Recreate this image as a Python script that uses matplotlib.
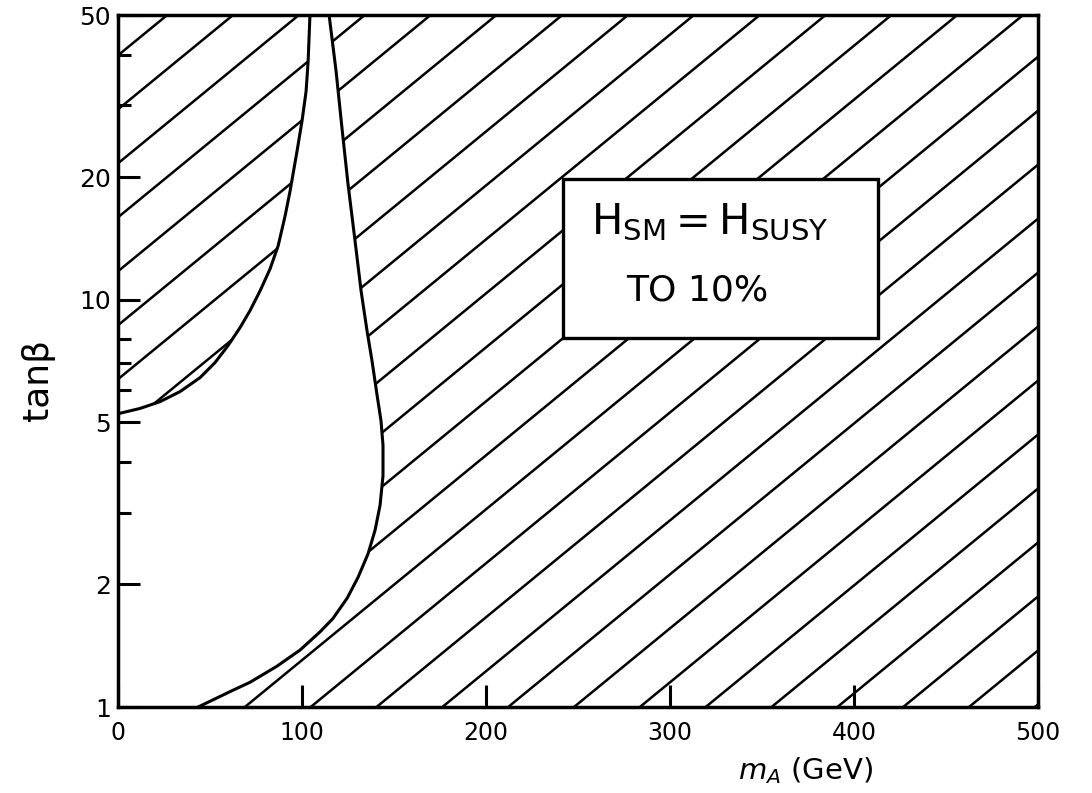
import matplotlib

matplotlib.use("Agg")
import matplotlib.pyplot as plt
import numpy as np
from matplotlib.patches import Rectangle
from matplotlib.ticker import FixedLocator, NullFormatter

# Right-hand edge of the unhatched region, tan(beta) rising from 1 to 50
EDGE_MA = [43.5, 62.5, 71.7, 86.4, 98.9, 109.8, 116.8, 124.5, 130.4, 135.9, 139.7,
           142.4, 144.0, 144.0, 142.9, 140.8, 138.0, 135.3, 132.1, 128.8, 125.0,
           121.7, 118.5, 114.7]
EDGE_TANB = [1.00, 1.10, 1.15, 1.26, 1.38, 1.53, 1.65, 1.85, 2.08, 2.38, 2.72,
             3.13, 3.70, 4.39, 5.05, 5.82, 7.09, 8.40, 10.5, 13.95, 19.2,
             26.4, 36.4, 50]

# Upper-left edge, from the tan(beta) axis up to the top of the spike
UPPER_MA = [0, 12.0, 22.8, 33.7, 44.6, 52.7, 59.8, 66.3, 71.7, 77.2, 82.6, 87.0,
            90.8, 93.5, 97.3, 100.0, 102.2, 103.3, 104.3]
UPPER_TANB = [5.25, 5.41, 5.62, 5.95, 6.44, 7.01, 7.72, 8.54, 9.40, 10.52, 11.9, 13.56,
              16.07, 18.5, 23.2, 27.5, 32.5, 38.5, 50]

X_TICKS = [0, 100, 200, 300, 400, 500]
Y_MAJOR = [1, 2, 5, 10, 20, 50]
Y_MINOR = [3, 4, 6, 7, 8, 30, 40]

# hatching, in axes-fraction units
HATCH_SLOPE = 1.09
HATCH_STEP = 0.078
HATCH_PHASE = 0.3958

fig = plt.figure(figsize=(10.92, 7.93), dpi=100)
ax = fig.add_axes([0.1081, 0.1084, 0.8425, 0.8726])
ax.set_yscale("log")

# diagonal hatching over the whole frame, then blank out the allowed region
for k in range(-25, 25):
    c = HATCH_PHASE + k * HATCH_STEP
    ax.plot([0, 1], [c, c + HATCH_SLOPE], transform=ax.transAxes,
            color="black", lw=1.8, zorder=0.8, solid_capstyle="butt")

region_x = np.r_[0, EDGE_MA, UPPER_MA[::-1]]
region_y = np.r_[1, EDGE_TANB, UPPER_TANB[::-1]]
ax.fill(region_x, region_y, color="white", lw=0, zorder=1)

ax.plot(EDGE_MA, EDGE_TANB, color="black", lw=2.2, zorder=2)
ax.plot(UPPER_MA, UPPER_TANB, color="black", lw=2.2, zorder=2)

# label box
ax.add_patch(Rectangle((242, 8.07), 171, 19.8 - 8.07, facecolor="white",
                       edgecolor="black", lw=2.4, zorder=3))
ax.text(321.7, 14.5, r"$\mathregular{H_{SM} = H_{SUSY}}$", fontsize=30,
        ha="center", va="baseline", zorder=4)
ax.text(314.7, 9.94, "TO 10%", fontsize=26, ha="center", va="baseline", zorder=4)

ax.set_xlim(0, 500)
ax.set_ylim(1, 50)

ax.set_xticks(X_TICKS)
ax.set_xticklabels([str(v) for v in X_TICKS])
ax.set_yticks(Y_MAJOR)
ax.set_yticklabels([str(v) for v in Y_MAJOR])
ax.yaxis.set_minor_locator(FixedLocator(Y_MINOR))
ax.yaxis.set_minor_formatter(NullFormatter())
ax.xaxis.set_minor_locator(FixedLocator([]))

ax.tick_params(axis="x", which="major", direction="in", length=16, width=2.2,
               labelsize=17, pad=10, top=False)
ax.tick_params(axis="y", which="major", direction="in", length=16, width=2.2,
               labelsize=18, pad=5, right=False)
ax.tick_params(axis="y", which="minor", direction="in", length=9, width=2.2,
               right=False)

for spine in ax.spines.values():
    spine.set_linewidth(2.5)

ax.set_xlabel(r"$m_A$ (GeV)", fontsize=21)
ax.xaxis.set_label_coords(0.747, -0.07)
ax.set_ylabel("tanβ", fontsize=26)
ax.yaxis.set_label_coords(-0.068, 0.473)

fig.savefig("out.png", dpi=100)
